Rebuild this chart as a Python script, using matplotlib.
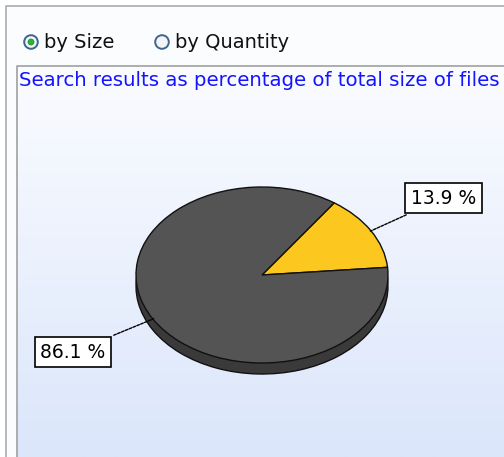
import numpy as np
import matplotlib
matplotlib.use('Agg')
import matplotlib.pyplot as plt
from matplotlib.patches import Circle, Rectangle

# share of total file size
slice_labels = ['13.9 %', '86.1 %']
slice_values = [13.9, 86.1]
slice_colors = ['#fcc71e', '#545454']
options = ['by Size', 'by Quantity']
selected = 'by Size'
caption = 'Search results as percentage of total size of files'

W, H = 504, 457
fig = plt.figure(figsize=(W / 100, H / 100), dpi=100)

# pixel-space canvas for the window chrome
bg = fig.add_axes([0, 0, 1, 1])
bg.set_xlim(0, W)
bg.set_ylim(H, 0)
bg.axis('off')

bg.add_patch(Rectangle((0, 0), W, H, color='white', zorder=0))
bg.add_patch(Rectangle((6, 6), W, H, facecolor='#fbfcfe', edgecolor='none', zorder=0))
bg.plot([6, 6, W], [H, 6, 6], color='#a6adb2', lw=1.2, zorder=1)

# gradient panel behind the chart
grad = np.linspace(0, 1, 256).reshape(-1, 1)
cmap = matplotlib.colors.LinearSegmentedColormap.from_list('panel', ['#fbfcff', '#dbe6fb'])
bg.imshow(grad, cmap=cmap, extent=(17, W, H, 66), aspect='auto', zorder=1)
bg.plot([17, 17, W], [H, 66, 66], color='#a0a0a0', lw=1.2, zorder=2)
bg.set_xlim(0, W)
bg.set_ylim(H, 0)

# radio buttons
for name, x in zip(options, [31, 162]):
    bg.add_patch(Circle((x, 42), 6.8, facecolor='#f2f4f6', edgecolor='#3c6690', lw=1.4, zorder=3))
    if name == selected:
        bg.add_patch(Circle((x, 42), 3.0, facecolor='#27b33c', edgecolor='#1a8a2a', lw=0.5, zorder=4))
    bg.text(x + 13, 43, name, fontsize=14, family='DejaVu Sans', va='center', ha='left',
            color='#111111', zorder=4)

bg.text(19, 80, caption, fontsize=14.2, family='DejaVu Sans', color='#1414ff',
        va='center', ha='left', zorder=4)

# pie: ellipse box in pixels
cx, cy, rx, ry, depth = 262, 275, 126, 88, 11

def pie_axes(dy):
    a = fig.add_axes([(cx - rx) / W, 1 - (cy + dy + ry) / H, 2 * rx / W, 2 * ry / H])
    a.axis('off')
    a.patch.set_alpha(0)
    return a

def squash(a):
    a.set_xlim(-1, 1)
    a.set_ylim(-1, 1)
    a.set_aspect('auto')

# side of the disc
side = pie_axes(depth)
side.pie(slice_values, colors=['#3a3a3a', '#3a3a3a'], startangle=5, radius=1,
         wedgeprops=dict(edgecolor='#111111', linewidth=1.0))
squash(side)

top = pie_axes(0)
wedges, _ = top.pie(slice_values, colors=slice_colors, startangle=5, radius=1,
                    wedgeprops=dict(edgecolor='#111111', linewidth=1.0))
squash(top)

# callout labels
label_pos = [(1.44, 0.875), (-1.5, -0.875)]
for w, lab, pos in zip(wedges, slice_labels, label_pos):
    mid = np.deg2rad((w.theta1 + w.theta2) / 2)
    edge = (0.97 * np.cos(mid), 0.97 * np.sin(mid))
    top.annotate(lab, xy=edge, xytext=pos, fontsize=13.5, family='DejaVu Sans',
                 ha='center', va='center', annotation_clip=False,
                 bbox=dict(boxstyle='square,pad=0.3', facecolor='white', edgecolor='black', lw=1.2),
                 arrowprops=dict(arrowstyle='-', color='black', lw=1, linestyle=(0, (2, 1))))

fig.savefig('out.png', dpi=100)
